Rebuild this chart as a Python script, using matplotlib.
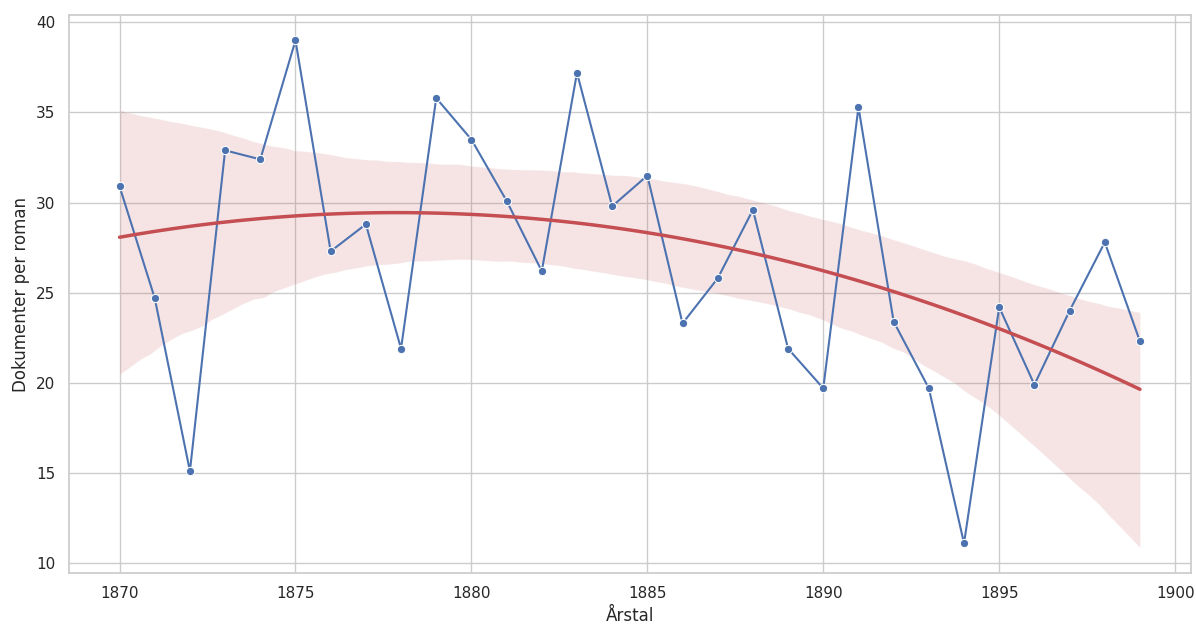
import numpy as np
import pandas as pd
import matplotlib
matplotlib.use('Agg')
import matplotlib.pyplot as plt
import seaborn as sns

# dokumenter per roman, per år
years = list(range(1870, 1900))
docs_per_novel = [30.9, 24.7, 15.1, 32.9, 32.4, 39.0, 27.3, 28.8, 21.9, 35.8,
                  33.5, 30.1, 26.2, 37.2, 29.8, 31.5, 23.3, 25.8, 29.6, 21.9,
                  19.7, 35.3, 23.4, 19.7, 11.1, 24.2, 19.9, 24.0, 27.8, 22.3]

df = pd.DataFrame({'Årstal': years, 'Dokumenter per roman': docs_per_novel})

sns.set_theme(style='whitegrid', context='notebook')
plt.rcParams['font.family'] = ['DejaVu Sans']

fig, ax = plt.subplots(figsize=(11.96, 6.26), dpi=100)
fig.subplots_adjust(left=0.0573, right=0.9958, top=0.976, bottom=0.0847)

sns.lineplot(data=df, x='Årstal', y='Dokumenter per roman', marker='o', color='C0', ax=ax)
sns.regplot(data=df, x='Årstal', y='Dokumenter per roman', order=2, scatter=False,
            color='C3', line_kws={'linewidth': 2.5}, seed=3, ax=ax)

ax.set_xlabel('Årstal')
ax.set_ylabel('Dokumenter per roman')

fig.savefig('out.png', dpi=100)
